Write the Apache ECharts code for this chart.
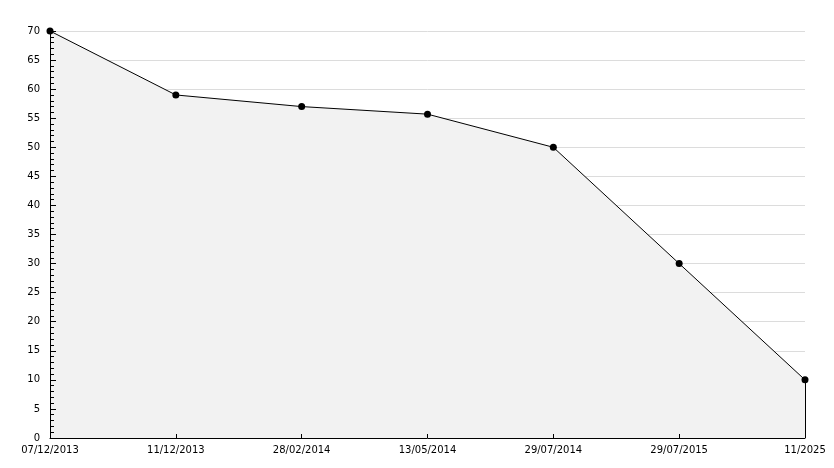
<!DOCTYPE html>
<html><head><meta charset="utf-8">
<script src="https://cdn.jsdelivr.net/npm/echarts@6/dist/echarts.min.js"></script>
<style>html,body{margin:0;padding:0;background:#fff}#c{width:834px;height:468px}</style>
</head><body><div id="c"></div>
<script>
const categories = ['07/12/2013','11/12/2013','28/02/2014','13/05/2014','29/07/2014','29/07/2015','11/2025'];
const values = [70, 59, 57, 55.7, 50, 30, 10];
const chart = echarts.init(document.getElementById('c'), null, {renderer:'canvas'});
const font = 'DejaVu Sans';
const lastCat = categories[categories.length-1];
const lastVal = values[values.length-1];
chart.setOption({
  animation:false,
  backgroundColor:'#fff',
  grid:{left:50,right:29,top:31,bottom:30,containLabel:false},
  xAxis:{
    type:'category', data:categories, boundaryGap:false, z:5,
    axisLine:{lineStyle:{color:'#000',width:1}},
    axisTick:{show:true,inside:true,length:4,lineStyle:{color:'#000'}},
    axisLabel:{color:'#000',fontFamily:font,fontSize:10,margin:7,interval:0},
    splitLine:{show:false}
  },
  yAxis:[{
    type:'value', min:0, max:70, interval:5, z:0,
    axisLine:{show:false},
    axisTick:{show:false},
    axisLabel:{show:false},
    splitLine:{show:true,lineStyle:{color:'#dcdcdc',width:1}}
  },{
    type:'value', min:0, max:70, interval:5, position:'left', z:5,
    axisLine:{show:true,lineStyle:{color:'#000',width:1}},
    axisTick:{show:true,inside:true,length:6,lineStyle:{color:'#000'}},
    minorTick:{show:true,splitNumber:5,length:4,lineStyle:{color:'#000'}},
    axisLabel:{color:'#000',fontFamily:font,fontSize:10,margin:10},
    splitLine:{show:false}
  }],
  series:[{
    type:'line', data:values, yAxisIndex:0,
    lineStyle:{color:'#000',width:1},
    itemStyle:{color:'#000'},
    symbol:'circle', symbolSize:7,
    areaStyle:{color:'#f2f2f2',opacity:1},
    markLine:{silent:true,symbol:'none',label:{show:false},
      lineStyle:{color:'#000',width:1,type:'solid'},
      data:[[{coord:[lastCat,0]},{coord:[lastCat,lastVal]}]]}
  }]
});
</script></body></html>
